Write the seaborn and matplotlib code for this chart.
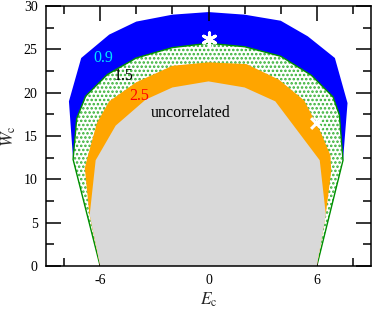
import numpy as np
import pandas as pd
import matplotlib
matplotlib.use("Agg")
import matplotlib.pyplot as plt
import seaborn as sns

# Phase boundaries (E_c, W_c), left to right
E_09 = [-6.0, -7.5, -7.73, -7.05, -5.5, -4.0, -2.0, 0.0, 2.0, 4.0, 5.5, 7.0, 7.7, 7.45, 6.0]
W_09 = [0.0, 12.3, 19.0, 24.0, 26.7, 28.2, 29.0, 29.3, 29.0, 28.3, 26.5, 24.0, 18.8, 12.2, 0.0]

E_15 = [-6.0, -7.5, -7.3, -6.8, -5.6, -4.0, -2.0, 0.0, 2.0, 4.0, 5.7, 6.9, 7.25, 7.45, 6.0]
W_15 = [0.0, 12.3, 17.0, 19.6, 22.1, 24.0, 25.2, 25.7, 25.3, 24.2, 22.0, 19.5, 17.4, 12.2, 0.0]

E_25 = [-6.0, -6.6, -6.85, -6.67, -6.18, -5.5, -4.0, -2.0, 0.0, 2.1, 3.9, 5.3, 6.2, 6.75, 6.8, 6.5, 6.0]
W_25 = [0.0, 6.0, 11.3, 12.8, 16.5, 19.0, 21.2, 23.1, 23.5, 23.3, 21.5, 19.1, 15.5, 12.8, 11.0, 6.0, 0.0]

E_unc = [-6.0, -6.58, -6.25, -5.14, -3.48, -2.0, 0.0, 2.0, 3.7, 6.16, 6.5, 6.0]
W_unc = [0.0, 5.9, 12.2, 16.2, 19.2, 20.6, 21.3, 20.6, 19.0, 12.2, 5.9, 0.0]

star_E, star_W = [0.0], [26.2]
cross_E, cross_W = [5.95], [16.5]

x_ticks = [-6, 0, 6]
y_ticks = [0, 5, 10, 15, 20, 25, 30]

sns.set_theme(style="ticks")
plt.rcParams["font.family"] = ["Liberation Serif", "DejaVu Serif"]
plt.rcParams["mathtext.fontset"] = "stix"
plt.rcParams["axes.unicode_minus"] = False
plt.rcParams["hatch.linewidth"] = 1.2

fig = plt.figure(figsize=(3.74, 3.09), dpi=100)
ax = fig.add_axes([46/374, 1-266/309, (371-46)/374, (266-6)/309])

ax.fill(E_09, W_09, color="#0000FF", lw=0, zorder=1)
ax.fill(E_15, W_15, facecolor="white", edgecolor="none", lw=0, zorder=2)
ax.fill(E_15, W_15, facecolor="none", edgecolor="#33B033", hatch="....", lw=0, zorder=2.1)
sns.lineplot(x=E_15, y=W_15, sort=False, estimator=None, color="#009000", lw=1.0, ax=ax, zorder=2.2)
ax.fill(E_25, W_25, color="#FFA500", lw=0, zorder=3)
ax.fill(E_unc, W_unc, color="#D9D9D9", lw=0, zorder=4)

sns.scatterplot(x=star_E, y=star_W, marker=(6, 2, 0), s=90, color="white", edgecolor="white",
                linewidth=2.2, ax=ax, zorder=6)
sns.scatterplot(x=cross_E, y=cross_W, marker="x", s=60, color="white", linewidth=2.2, ax=ax, zorder=6)

ax.text(-5.8, 24.0, "0.9", color="#00E5FF", fontsize=11.5, ha="center", va="center", zorder=7)
ax.text(-4.73, 21.9, "1.5", color="black", fontsize=11.5, ha="center", va="center", zorder=7)
ax.text(-3.82, 19.6, "2.5", color="red", fontsize=11.5, ha="center", va="center", zorder=7)
ax.text(-1.0, 17.7, "uncorrelated", color="black", fontsize=11.5, ha="center", va="center", zorder=7)

ax.set_xlim(-9, 9)
ax.set_ylim(0, 30)
ax.set_xticks(x_ticks)
ax.set_xticklabels([str(v) for v in x_ticks])
ax.set_xticks(np.arange(-8, 9, 2), minor=True)
ax.set_yticks(y_ticks)
ax.set_yticklabels([str(v) for v in y_ticks])
ax.set_yticks(np.arange(0, 30.1, 2.5), minor=True)
ax.tick_params(which="both", direction="in", top=True, right=True, width=1.1, color="black",
               labelsize=10, labelcolor="black")
ax.tick_params(which="major", length=11, pad=6)
ax.tick_params(which="minor", length=6)
for s in ax.spines.values():
    s.set_linewidth(1.1)
    s.set_color("black")
    s.set_zorder(10)
ax.set_xlabel(r"$E_{\rm c}$", fontsize=12.5, labelpad=2)
ax.set_ylabel(r"$W_{\rm c}$", fontsize=12.5, labelpad=4)
ax.set_axisbelow(False)

fig.savefig("out.png", dpi=100)
